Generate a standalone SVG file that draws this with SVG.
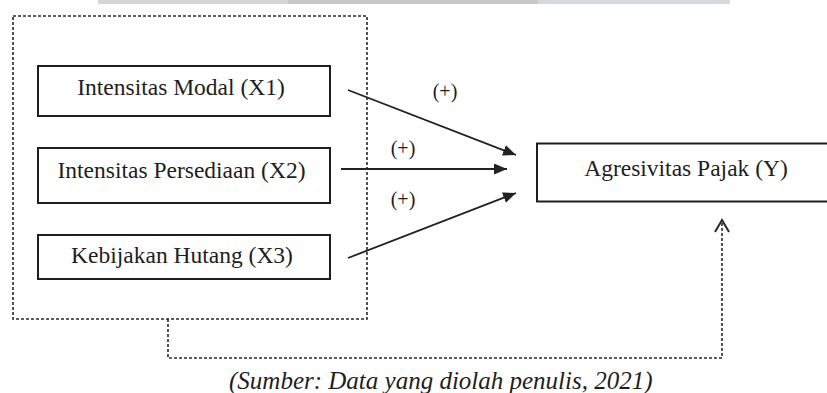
<svg xmlns="http://www.w3.org/2000/svg" width="827" height="393" viewBox="0 0 827 393">
  <style>
    .box { fill: #ffffff; stroke: #1e1e1e; stroke-width: 2; }
    .lbl { font-family: "Liberation Serif", "Times New Roman", serif; font-size: 23.5px; fill: #1e1e1e; text-anchor: middle; }
    .sign { font-family: "Liberation Serif", "Times New Roman", serif; font-size: 20px; fill: #1e1e1e; text-anchor: middle; }
    .cap { font-family: "Liberation Serif", "Times New Roman", serif; font-size: 25px; font-style: italic; fill: #1e1e1e; }
    .dash { fill: none; stroke: #2a2a2a; stroke-width: 1.6; stroke-dasharray: 3 2; }
    .arrow { fill: none; stroke: #222222; stroke-width: 1.8; marker-end: url(#head); }
  </style>
  <defs>
    <marker id="head" markerUnits="userSpaceOnUse" markerWidth="14" markerHeight="12" refX="13" refY="5.5" orient="auto">
      <path d="M0,0 L13,5.5 L0,11 z" fill="#222222"/>
    </marker>
  </defs>
  <rect width="827" height="393" fill="#ffffff"/>
  <!-- top gray strip -->
  <rect x="98" y="0" width="190" height="4" fill="#d6d6d8"/>
  <rect x="288" y="0" width="250" height="4" fill="#c7c7cb"/>
  <rect x="538" y="0" width="192" height="4" fill="#d6d9db"/>

  <g id="group-x">
    <rect class="dash" x="13" y="16" width="354" height="303"/>
  </g>

  <g id="node-x1">
    <rect class="box" x="38" y="66" width="292" height="50"/>
    <text class="lbl" x="181" y="95">Intensitas Modal (X1)</text>
  </g>
  <g id="node-x2">
    <rect class="box" x="38" y="148" width="292" height="55"/>
    <text class="lbl" x="181.5" y="178">Intensitas Persediaan (X2)</text>
  </g>
  <g id="node-x3">
    <rect class="box" x="38" y="235" width="292" height="44"/>
    <text class="lbl" x="182" y="263">Kebijakan Hutang (X3)</text>
  </g>
  <g id="node-y">
    <rect class="box" x="537" y="143.5" width="300" height="58"/>
    <text class="lbl" x="686" y="176">Agresivitas Pajak (Y)</text>
  </g>

  <g id="connectors">
    <line class="arrow" x1="348" y1="90" x2="516" y2="155"/>
    <line class="arrow" x1="341" y1="169" x2="507" y2="169"/>
    <line class="arrow" x1="348" y1="258" x2="516" y2="193"/>
    <polyline class="dash" points="168,319 168,358 722,358 722,221"/>
    <polyline fill="none" stroke="#2a2a2a" stroke-width="2" points="715,232 722,220 729,232"/>
    <text class="sign" x="445" y="98">(+)</text>
    <text class="sign" x="403" y="155">(+)</text>
    <text class="sign" x="403" y="206">(+)</text>
  </g>

  <text class="cap" x="229" y="389">(Sumber: Data yang diolah penulis, 2021)</text>
</svg>
